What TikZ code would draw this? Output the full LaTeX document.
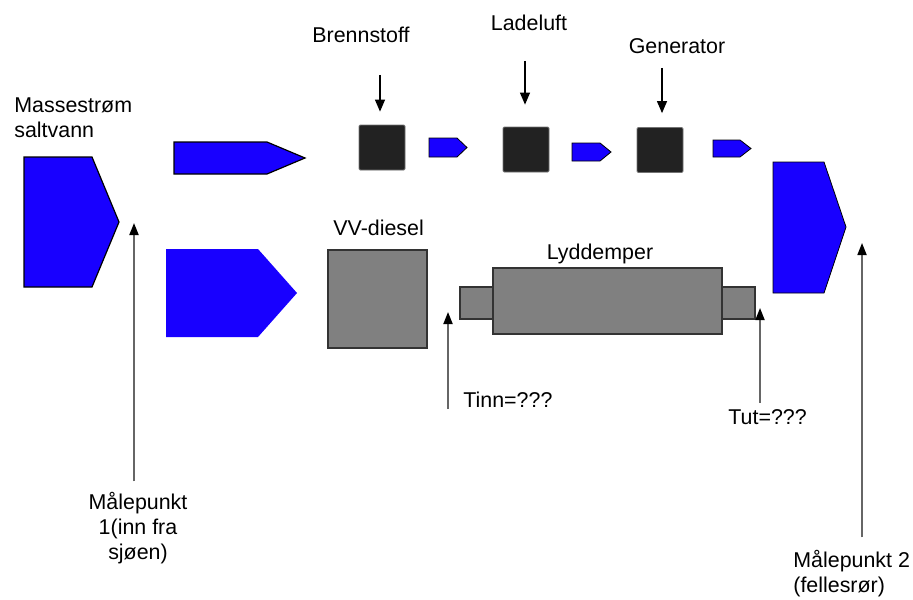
\documentclass[tikz,border=0pt]{standalone}
\usepackage{fontspec}
\setmainfont{Liberation Sans}
\usetikzlibrary{arrows.meta, positioning}
\definecolor{flowblue}{RGB}{24,0,255}
\definecolor{engine}{RGB}{128,128,128}
\definecolor{block}{RGB}{34,34,34}

\begin{document}
\begin{tikzpicture}[x=0.5pt,y=-0.5pt,
          lbl/.style={inner sep=0pt,font=\fontsize{10.7}{12.5}\selectfont},
          flow/.style={fill=flowblue,draw=black,line width=0.6pt},
          unit/.style={draw=black!55,fill=block,inner sep=0pt,
                       minimum width=23pt,minimum height=22.5pt,rounded corners=0.6pt},
          part/.style={draw=black!80,fill=engine,inner sep=0pt,line width=0.7pt},
          feed/.style={-{Triangle[length=6pt,width=5pt]},line width=0.6pt},
          probe/.style={-{Triangle[length=6pt,width=4.5pt,color=black]},
                        line width=0.9pt,draw=black!60}]
        \useasboundingbox (0,0) rectangle (913,599);
        % saltvann inn og ut
        \draw[flow] (24,157) -- (92,157) -- (119,222) -- (92,287) -- (24,287) -- cycle;
        \draw[flow] (174,142) -- (267,142) -- (305,158) -- (267,174) -- (174,174) -- cycle;
        \draw[flow,draw=none] (166,249) -- (258,249) -- (297,293) -- (258,337) -- (166,337) -- cycle;
        \draw[flow,line width=0.4pt] (773,162) -- (824,162) -- (846,227) -- (824,293) -- (773,293) -- cycle;
        % mellom blokkene
        \draw[flow,line width=0.4pt] (429,138) -- (457,138) -- (467,147.5) -- (457,157) -- (429,157) -- cycle;
        \draw[flow,line width=0.4pt] (572,143) -- (600,143) -- (611,152) -- (600,161) -- (572,161) -- cycle;
        \draw[flow,line width=0.4pt] (713,140) -- (740,140) -- (751,148.5) -- (740,157) -- (713,157) -- cycle;

        \node[lbl,anchor=base west,align=left](masse) at (14,137){Massestrøm\\saltvann};

        % brennstoff, ladeluft, generator
        \node[unit](brennbox) at (382,147.5){};
        \node[unit](ladebox)  at (526,149.5){};
        \node[unit](genbox)   at (660,150){};
        \node[lbl,anchor=base](brenn) at (361,43){Brennstoff};
        \node[lbl,anchor=base](lade)  at (529,31){Ladeluft};
        \node[lbl,anchor=base](gen)   at (677,54){Generator};
        \coordinate (brennIn) at (380,75);
        \coordinate (ladeIn)  at (525,61);
        \coordinate (genIn)   at (662,68);
        \draw[feed,shorten >=6.5pt](brennIn)--(brennIn |- brennbox.north);
        \draw[feed,shorten >=11pt](ladeIn)--(ladeIn |- ladebox.north);
        \draw[feed,shorten >=7pt](genIn)--(genIn |- genbox.north);

        % VV-diesel og lyddemper
        \node[part,minimum width=49.5pt,minimum height=49pt](vv) at (377.5,299){};
        \node[lbl,anchor=base west](vvtxt) at (333,235){VV-diesel};
        \node[part,minimum width=16.5pt,minimum height=16pt](stubin)  at (476.5,303){};
        \node[part,minimum width=16.5pt,minimum height=16pt](stubout) at (738.5,303){};
        \node[part,minimum width=114.5pt,minimum height=33pt](lydd) at (607.5,301){};
        \node[lbl,anchor=base](lyddtxt) at (600,259){Lyddemper};

        % temperaturer
        \node[lbl,anchor=base west](tinn) at (463,407){Tinn=???};
        \node[lbl,anchor=base west](tut)  at (728,424){Tut=???};
        \coordinate (tinnTip) at (448,312);
        \coordinate (tutTip)  at (760,308);
        \draw[probe,shorten <=-1pt](tinnTip |- tinn.base)--(tinnTip);
        \draw[probe,shorten <=3pt](tutTip |- tut.north)--(tutTip);

        % målepunkter
        \node[lbl,anchor=base,align=center](mp1) at (138,559){Målepunkt\\1(inn fra\\sjøen)};
        \node[lbl,anchor=base west,align=left](mp2) at (793,592){Målepunkt 2\\(fellesrør)};
        \coordinate (mp1Tip) at (134,223);
        \coordinate (mp2Tip) at (862,243);
        \draw[probe,shorten <=5pt](mp1Tip |- mp1.north)--(mp1Tip);
        \draw[probe,shorten <=6pt](mp2Tip |- mp2.north)--(mp2Tip);
      \end{tikzpicture}
\end{document}
